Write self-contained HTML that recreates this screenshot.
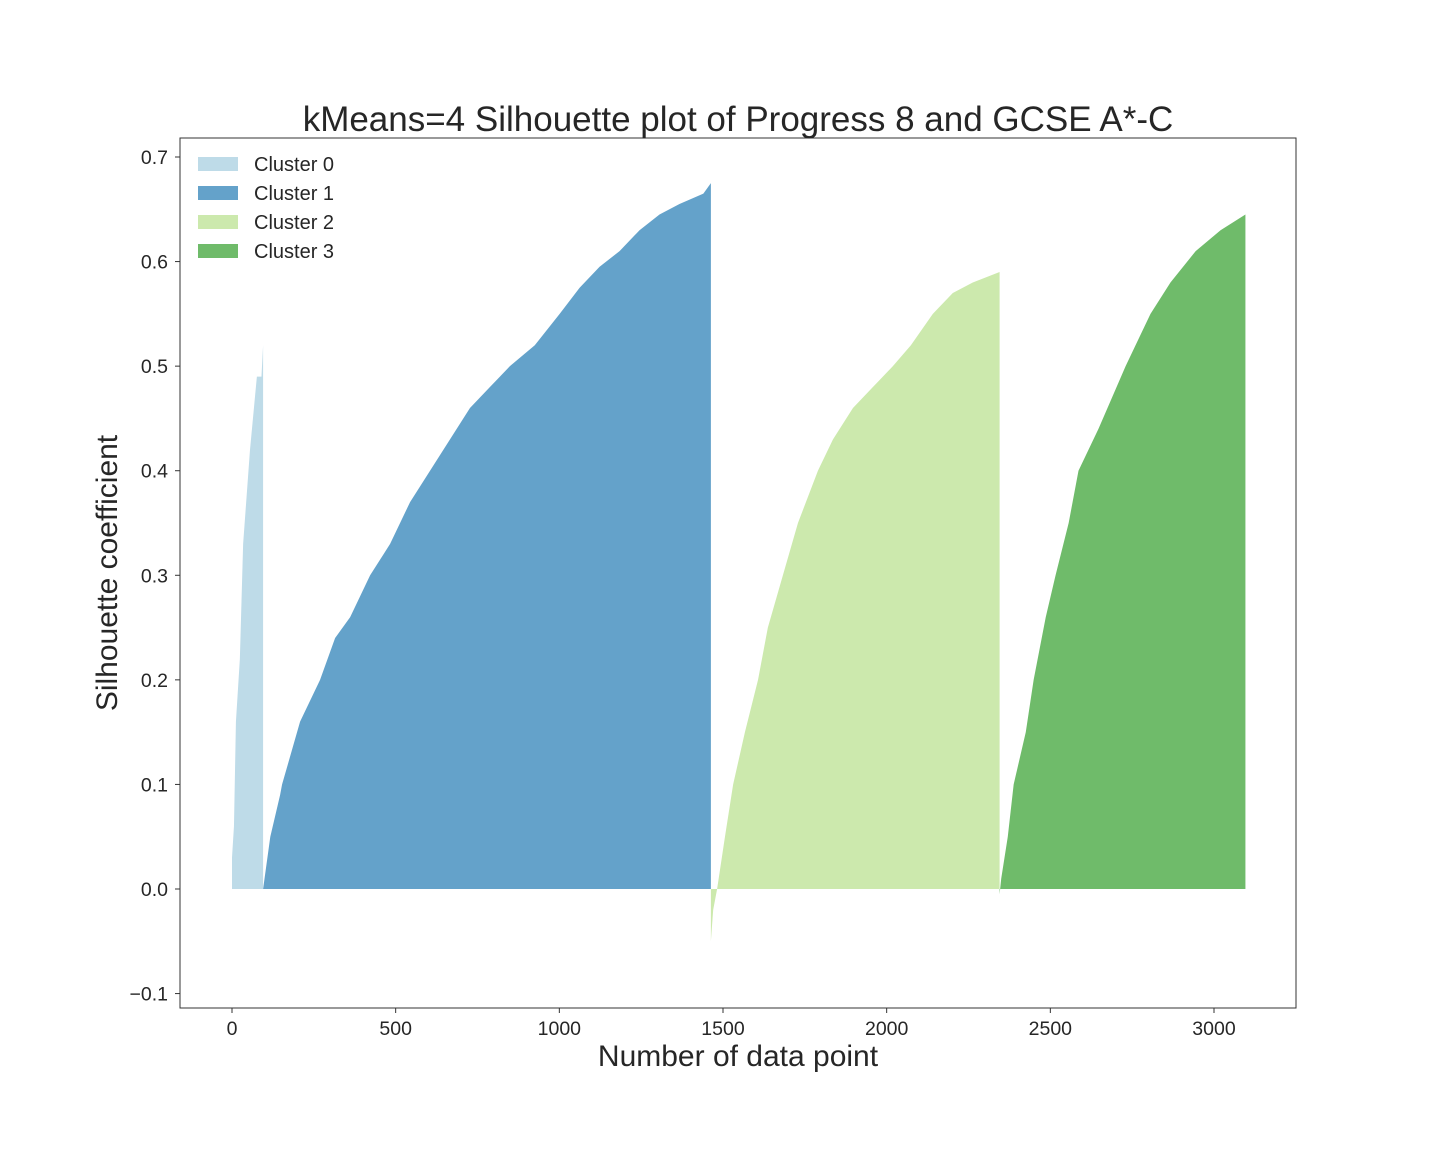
<!DOCTYPE html>
<html><head><meta charset="utf-8"><style>
body{margin:0;background:#fff;}
svg{display:block;font-family:"Liberation Sans",sans-serif;}
</style></head><body>
<svg id="chart" width="1440" height="1152"></svg>
<script>
// data: breakpoints (sample index, silhouette value) per cluster, sorted ascending
const clusterNames = ["Cluster 0","Cluster 1","Cluster 2","Cluster 3"];
const clusterColors = ["#bedbe8","#64a2ca","#cce9ad","#6fbb6a"];
const c0Idx = [0,6,12,24,34,55,76,90,95];
const c0Val = [0.03,0.06,0.16,0.22,0.33,0.42,0.49,0.49,0.52];
const c1Idx = [95,117,147,153,208,269,315,361,422,483,544,605,666,727,788,849,925,1001,1062,1123,1184,1245,1306,1367,1440,1463];
const c1Val = [0.0,0.05,0.09,0.1,0.16,0.2,0.24,0.26,0.3,0.33,0.37,0.4,0.43,0.46,0.48,0.5,0.52,0.55,0.575,0.595,0.61,0.63,0.645,0.655,0.665,0.675];
const c2Idx = [1463,1470,1482,1506,1531,1567,1607,1637,1683,1729,1790,1836,1897,1958,2019,2074,2141,2202,2263,2345];
const c2Val = [-0.05,-0.02,0.0,0.05,0.1,0.15,0.2,0.25,0.3,0.35,0.4,0.43,0.46,0.48,0.5,0.52,0.55,0.57,0.58,0.59];
const c3Idx = [2345,2350,2370,2388,2425,2449,2486,2516,2556,2586,2647,2730,2806,2867,2944,3020,3096];
const c3Val = [-0.005,0.01,0.05,0.1,0.15,0.2,0.26,0.3,0.35,0.4,0.44,0.5,0.55,0.58,0.61,0.63,0.645];
const clustersIdx = [c0Idx,c1Idx,c2Idx,c3Idx];
const clustersVal = [c0Val,c1Val,c2Val,c3Val];
const xTicks = [0,500,1000,1500,2000,2500,3000];
const yTicks = [-0.1,0.0,0.1,0.2,0.3,0.4,0.5,0.6,0.7];

const NS="http://www.w3.org/2000/svg";
const svg=document.getElementById('chart');
const L=180,R=1296,T=138,B=1008;
const xs=v=>232+v*(1214-232)/3000;
const ys=v=>889-v*(889-157)/0.7;
function el(tag,attrs,parent){const e=document.createElementNS(NS,tag);for(const k in attrs)e.setAttribute(k,attrs[k]);(parent||svg).appendChild(e);return e;}

for(let c=0;c<4;c++){
  const I=clustersIdx[c],V=clustersVal[c];
  let d='M'+xs(I[0])+','+ys(0);
  for(let i=0;i<I.length;i++) d+=' L'+xs(I[i])+','+ys(V[i]);
  d+=' L'+xs(I[I.length-1])+','+ys(0)+' Z';
  const p=el('path',{d:d,fill:clusterColors[c]});
  
  
}
const frame=el('rect',{x:L,y:T,width:R-L,height:B-T,fill:'none',stroke:'#333','stroke-width':1});



xTicks.forEach(t=>{
  const x=xs(t);
  el('line',{x1:x,x2:x,y1:B,y2:B+5,stroke:'#333'});
  const tx=el('text',{x:x,y:B+27,'text-anchor':'middle','font-size':19.5,fill:'#262626'});
  tx.textContent=String(t);
  
  
});
yTicks.forEach(t=>{
  const y=ys(t);
  el('line',{x1:L-5,x2:L,y1:y,y2:y,stroke:'#333'});
  const tx=el('text',{x:L-12,y:y+7,'text-anchor':'end','font-size':19.5,fill:'#262626'});
  tx.textContent=(t<0?'\u2212':'')+Math.abs(t).toFixed(1);
  
  
});

const title=el('text',{x:738,y:131,'text-anchor':'middle','font-size':35,fill:'#262626'});
title.textContent='kMeans=4 Silhouette plot of Progress 8 and GCSE A*-C';


const xl=el('text',{x:738,y:1066,'text-anchor':'middle','font-size':30,fill:'#262626'});
xl.textContent='Number of data point';


const yl=el('text',{x:0,y:0,'text-anchor':'middle','font-size':30,fill:'#262626',transform:'translate(117,573) rotate(-90)'});
yl.textContent='Silhouette coefficient';



clusterNames.forEach((n,i)=>{
  const g=el('g',{});
  
  
  const y=157+i*29;
  el('rect',{x:198,y:y,width:40,height:14,fill:clusterColors[i]},g);
  const t=el('text',{x:254,y:y+14,'font-size':20,fill:'#262626'},g);
  t.textContent=n;
});
</script>
</body></html>
